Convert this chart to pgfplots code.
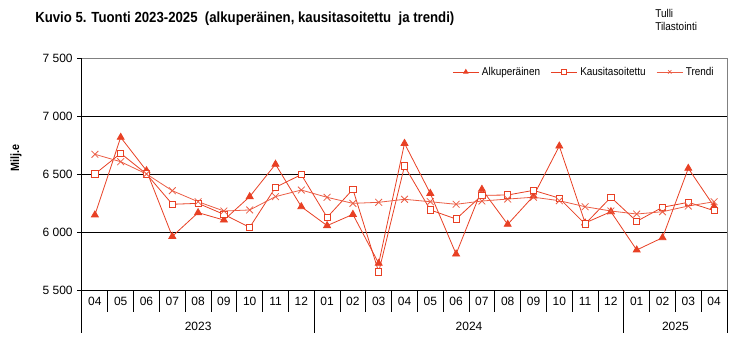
\documentclass[border=0pt]{standalone}
\usepackage{fontspec}
\setmainfont{Liberation Sans}
\newfontfamily\narrow[FakeStretch=0.88]{Liberation Sans}
\newfontfamily\narrowb[FakeStretch=0.9]{Liberation Sans Bold}
\usepackage{pgfplots}
\pgfplotsset{compat=1.18}
\definecolor{ser}{RGB}{232,64,36}
\begin{document}
\begin{tikzpicture}[x=1pt,y=1pt]
\useasboundingbox (0,0) rectangle (567,255);
\node[anchor=west, font=\narrowb\fontsize{11}{13}\selectfont, inner sep=0pt] at (26.25,240.75) {Kuvio 5. Tuonti 2023-2025\ \ (alkuperäinen, kausitasoitettu\ \ ja trendi)};
\node[anchor=north west, font=\narrow\fontsize{8.5}{9.75}\selectfont, inner sep=0pt, align=left] at (491.25,248) {Tulli\\Tilastointi};
\node[rotate=90, font=\narrowb\fontsize{9}{10}\selectfont, inner sep=0pt] at (12,136.5) {Milj.e};
\begin{axis}[
  at={(61.5pt,37.5pt)}, anchor=south west,
  scale only axis, width=483.75pt, height=174pt,
  xmin=-0.5, xmax=24.5, ymin=5500, ymax=7500,
  axis line style={draw=none},
  clip=false,
  ytick={5500,6000,6500,7000,7500},
  yticklabels={5 500,6 000,6 500,7 000,7 500},
  ytick pos=left, xtick pos=bottom,
  tick align=center,
  y tick style={black, line width=0.75pt},
  major tick length=7pt,
  x tick style={draw=none},
  xtick={0,...,24},
  xticklabels={04,05,06,07,08,09,10,11,12,01,02,03,04,05,06,07,08,09,10,11,12,01,02,03,04},
  tick label style={font=\fontsize{9}{10}\selectfont},
  x tick label style={yshift=1.5pt},
  ymajorgrids,
  major grid style={black, line width=0.75pt},
  legend style={draw=none, fill=none, at={(0.986,0.94)}, anchor=east,
    font=\narrow\fontsize{8.5}{10}\selectfont, inner sep=1pt,
    /tikz/every even column/.append style={column sep=6pt}},
  legend columns=3,
  legend image code/.code={\draw[#1, mark=none] (0pt,0pt) -- (19.5pt,0pt); \draw[#1, mark size=1.8pt] plot coordinates {(9.75pt,0pt)};},
]
\addplot[ser, line width=0.6pt, mark=triangle*, mark size=3pt, mark options={solid, fill=ser}] coordinates {(0,6147) (1,6816) (2,6529) (3,5962) (4,6167) (5,6103) (6,6305) (7,6584) (8,6218) (9,6055) (10,6152) (11,5730) (12,6764) (13,6333) (14,5810) (15,6368) (16,6066) (17,6310) (18,6741) (19,6078) (20,6175) (21,5845) (22,5951) (23,6549) (24,6220)};
\addlegendentry{Alkuperäinen}
\addplot[ser, line width=0.6pt, mark=square*, mark size=2.3pt, mark options={solid, fill=white, line width=0.7pt}] coordinates {(0,6500) (1,6678) (2,6500) (3,6239) (4,6247) (5,6152) (6,6040) (7,6385) (8,6495) (9,6126) (10,6368) (11,5655) (12,6569) (13,6190) (14,6112) (15,6316) (16,6319) (17,6359) (18,6292) (19,6069) (20,6299) (21,6092) (22,6213) (23,6256) (24,6184)};
\addlegendentry{Kausitasoitettu}
\addplot[ser!85, line width=0.6pt, mark=x, mark size=3.6pt, mark options={solid, line width=0.6pt}] coordinates {(0,6670) (1,6606) (2,6500) (3,6356) (4,6261) (5,6181) (6,6190) (7,6305) (8,6362) (9,6299) (10,6247) (11,6256) (12,6282) (13,6261) (14,6239) (15,6267) (16,6284) (17,6300) (18,6270) (19,6218) (20,6181) (21,6155) (22,6175) (23,6224) (24,6261)};
\addlegendentry{Trendi}
\draw[gray, line width=0.75pt] (rel axis cs:0,1) -- (rel axis cs:1,1) -- (rel axis cs:1,0);
\draw[black, line width=0.75pt] (rel axis cs:0,1) -- (rel axis cs:0,0) -- (rel axis cs:1,0);
\pgfplotsinvokeforeach{0.5,1.5,...,23.5}{\draw[black, line width=0.75pt] (axis cs:#1,5500) -- ++(0pt,-16.5pt);}
\pgfplotsinvokeforeach{-0.5,8.5,20.5,24.5}{\draw[black, line width=0.75pt] (axis cs:#1,5500) -- ++(0pt,-32pt);}
\node[font=\fontsize{9}{10}\selectfont] at ([yshift=-27pt]axis cs:4,5500) {2023};
\node[font=\fontsize{9}{10}\selectfont] at ([yshift=-27pt]axis cs:14.5,5500) {2024};
\node[font=\fontsize{9}{10}\selectfont] at ([yshift=-27pt]axis cs:22.5,5500) {2025};
\end{axis}
\end{tikzpicture}
\end{document}
